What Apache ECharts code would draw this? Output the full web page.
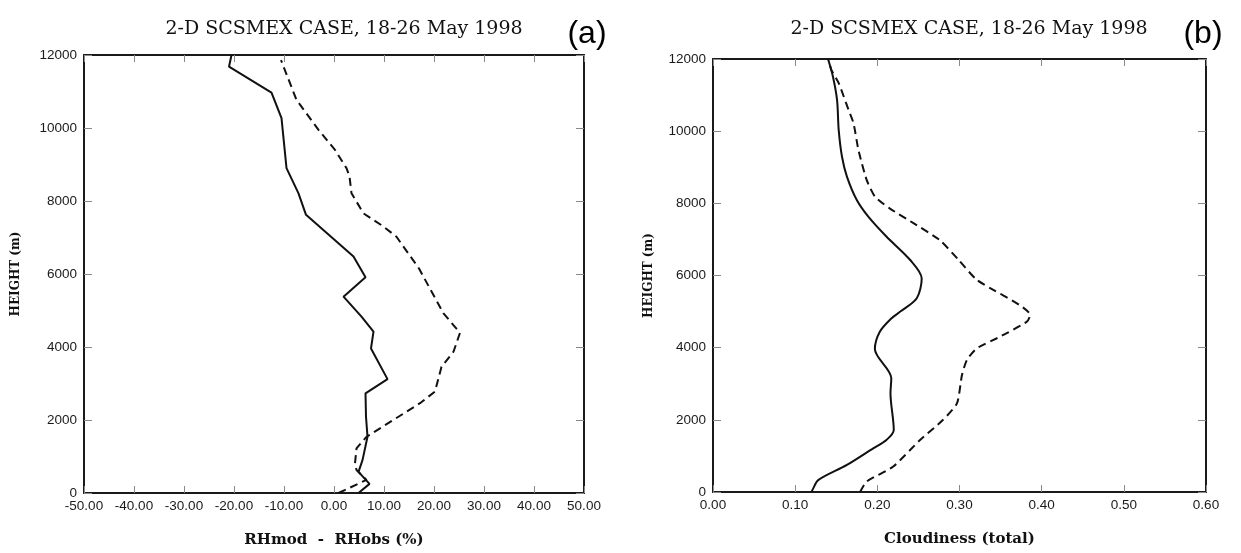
<!DOCTYPE html>
<html>
<head>
<meta charset="utf-8">
<script src="https://cdn.jsdelivr.net/npm/echarts@6/dist/echarts.min.js"></script>
<style>
html,body{margin:0;padding:0;background:#fff;}
#chart{width:1241px;height:553px;}
</style>
</head>
<body>
<div id="chart"></div>
<script>
// ---------- data ----------
const titleText = '2-D SCSMEX CASE, 18-26 May 1998';
const panelLabels = ['(a)', '(b)'];
const yName = 'HEIGHT (m)';
const xNameA = 'RHmod  -  RHobs (%)';
const xNameB = 'Cloudiness (total)';

// panel (a): RH difference (%) vs height (m)
const rhSolidX = [4.9, 7.1, 4.9, 5.7, 6.7, 6.4, 6.3, 10.7, 7.4, 7.9, 5.5, 1.9, 6.3, 3.9, -5.6, -7.1, -9.5, -10.5, -12.5, -21.0, -20.5];
const rhSolidH = [0, 250, 580, 900, 1540, 2090, 2730, 3120, 3960, 4420, 4830, 5380, 5910, 6480, 7620, 8210, 8900, 10270, 10970, 11680, 12000];
const rhDashX = [0.9, 6.5, 4.5, 4.2, 4.5, 6.5, 17.2, 20.2, 21.5, 23.9, 25.2, 21.9, 17.0, 12.5, 9.9, 5.9, 3.5, 3.1, 2.5, 0.2, -3.1, -7.5, -10.6];
const rhDashH = [0, 360, 630, 810, 1220, 1540, 2460, 2780, 3460, 3870, 4390, 4920, 6150, 7020, 7300, 7660, 8210, 8670, 8900, 9400, 9950, 10770, 11860];

// panel (b): total cloudiness vs height (m)
const clSolidX = [0.120, 0.122, 0.128, 0.163, 0.195, 0.211, 0.220, 0.216, 0.217, 0.197, 0.203, 0.217, 0.228, 0.248, 0.254, 0.240, 0.211, 0.189, 0.175, 0.163, 0.157, 0.153, 0.151, 0.146, 0.140];
const clSolidH = [0, 100, 330, 750, 1210, 1440, 1720, 2740, 3150, 3960, 4440, 4810, 5000, 5370, 5920, 6430, 7080, 7630, 8090, 8740, 9290, 10030, 10860, 11510, 12000];
const clDashX = [0.179, 0.187, 0.219, 0.252, 0.280, 0.297, 0.303, 0.309, 0.321, 0.349, 0.382, 0.386, 0.321, 0.299, 0.276, 0.244, 0.215, 0.197, 0.187, 0.177, 0.171, 0.165, 0.153, 0.144, 0.141];
const clDashH = [0, 290, 700, 1440, 2000, 2460, 3240, 3660, 3980, 4300, 4720, 4900, 5880, 6430, 6980, 7450, 7860, 8190, 8650, 9480, 10220, 10590, 11330, 11700, 11950];

// axis ranges / ticks
const heightMin = 0, heightMax = 12000, heightStep = 2000;
const rhMin = -50, rhMax = 50, rhStep = 10;
const clMin = 0, clMax = 0.6, clStep = 0.1;

// ---------- chart ----------
const zip = (xs, ys) => xs.map((x, i) => [x, ys[i]]);
const frameColor = '#1a1a1a';
const tickColor = '#8a8a8a';
const labelFont = { fontFamily: 'Liberation Sans', fontSize: 13.5, color: '#1a1a1a' };
const nameFont = { fontFamily: 'DejaVu Serif', fontSize: 15, fontWeight: 'bold', color: '#111' };

function xAxes(gridIndex, min, max, step, name) {
  const base = {
    gridIndex, type: 'value', min, max, interval: step,
    splitLine: { show: false },
    axisLine: { show: true, onZero: false, lineStyle: { color: frameColor, width: 2 } },
    axisTick: { show: true, inside: true, length: 7, lineStyle: { color: tickColor, width: 1 } }
  };
  return [
    Object.assign({}, base, {
      position: 'bottom',
      name, nameLocation: 'middle', nameGap: 40,
      nameTextStyle: nameFont,
      axisLabel: Object.assign({ margin: 6, formatter: v => v.toFixed(2) }, labelFont)
    }),
    Object.assign({}, base, { position: 'top', axisLabel: { show: false } })
  ];
}
function yAxes(gridIndex, nameGap) {
  const base = {
    gridIndex, type: 'value', min: heightMin, max: heightMax, interval: heightStep,
    splitLine: { show: false },
    axisLine: { show: true, onZero: false, lineStyle: { color: frameColor, width: 2 } },
    axisTick: { show: true, inside: true, length: 8, lineStyle: { color: tickColor, width: 1 } }
  };
  return [
    Object.assign({}, base, {
      position: 'left',
      name: yName, nameLocation: 'middle', nameGap, nameRotate: 90,
      nameTextStyle: Object.assign({}, nameFont, { fontSize: 12 }),
      axisLabel: Object.assign({ margin: 7, formatter: v => String(v) }, labelFont)
    }),
    Object.assign({}, base, { position: 'right', axisLabel: { show: false } })
  ];
}

function lineSeries(xi, yi, data, dashed, smooth) {
  return {
    type: 'line', xAxisIndex: xi, yAxisIndex: yi, data,
    symbol: 'none', smooth: smooth || false,
    lineStyle: { color: '#111', width: 2, type: dashed ? [8, 5] : 'solid' },
    animation: false
  };
}

const chart = echarts.init(document.getElementById('chart'));
chart.setOption({
  backgroundColor: '#fff',
  animation: false,
  grid: [
    { left: 84, top: 55, width: 500, height: 438 },
    { left: 713, top: 59, width: 493, height: 433 }
  ],
  xAxis: [
    ...xAxes(0, rhMin, rhMax, rhStep, xNameA),
    ...xAxes(1, clMin, clMax, clStep, xNameB)
  ],
  yAxis: [
    ...yAxes(0, 62),
    ...yAxes(1, 58)
  ],
  series: [
    lineSeries(0, 0, zip(rhSolidX, rhSolidH), false),
    lineSeries(0, 0, zip(rhDashX, rhDashH), true),
    lineSeries(2, 2, zip(clSolidX, clSolidH), false, 0.3),
    lineSeries(2, 2, zip(clDashX, clDashH), true, 0.2)
  ],
  graphic: [
    { type: 'text', x: 344, y: 29, style: { text: titleText, font: '19px "DejaVu Serif"', fill: '#111', align: 'center', verticalAlign: 'middle' } },
    { type: 'text', x: 587, y: 34, style: { text: panelLabels[0], font: '32px "Liberation Sans"', fill: '#000', align: 'center', verticalAlign: 'middle' } },
    { type: 'text', x: 969, y: 29, style: { text: titleText, font: '19px "DejaVu Serif"', fill: '#111', align: 'center', verticalAlign: 'middle' } },
    { type: 'text', x: 1203, y: 34, style: { text: panelLabels[1], font: '32px "Liberation Sans"', fill: '#000', align: 'center', verticalAlign: 'middle' } }
  ]
});
</script>
</body>
</html>
